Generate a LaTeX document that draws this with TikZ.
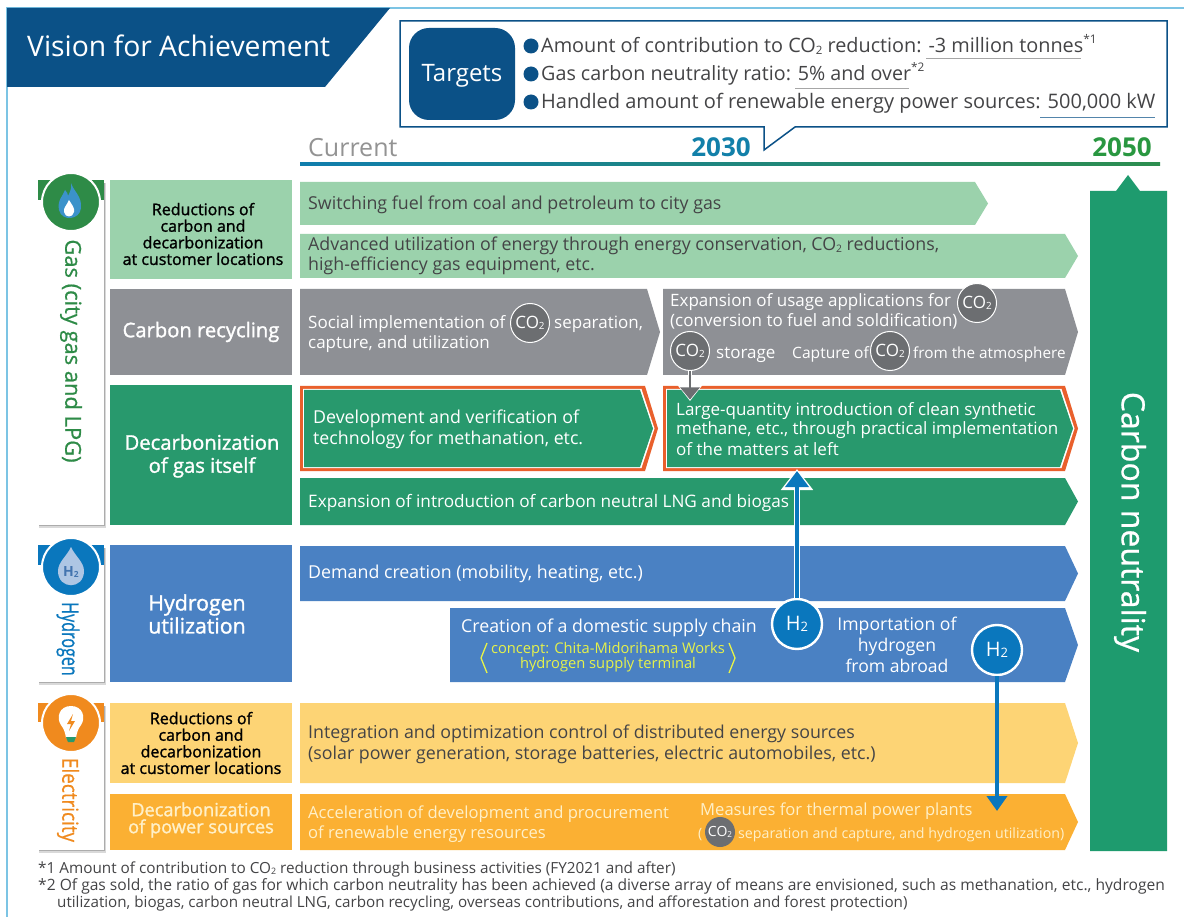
\documentclass[tikz,border=0pt]{standalone}
\usepackage{fontspec}
\setmainfont{Open Sans}
\newfontfamily\semi[FakeBold=1.4]{Open Sans}
\newfontfamily\medi[FakeBold=0.7]{Open Sans}
\usetikzlibrary{arrows.meta,shapes.geometric,calc}
\definecolor{navy}{HTML}{0B5187}
\definecolor{frameblue}{HTML}{7CC4E4}
\definecolor{lgreen}{HTML}{9BD2AC}
\definecolor{gray1}{HTML}{8E9095}
\definecolor{gray2}{HTML}{6C6E71}
\definecolor{dgreen}{HTML}{28996D}
\definecolor{barGreen}{HTML}{1E9B6E}
\definecolor{blue1}{HTML}{4A81C3}
\definecolor{h2blue}{HTML}{0A77BD}
\definecolor{yel}{HTML}{FDD475}
\definecolor{org}{HTML}{FBB033}
\definecolor{redorg}{HTML}{E9602C}
\definecolor{txtg}{HTML}{444446}
\definecolor{sidegreen}{HTML}{2E8B47}
\definecolor{sideorg}{HTML}{F08A1E}
\definecolor{conc}{HTML}{E6F24A}
\definecolor{paleorg}{HTML}{FFF0C8}
\newcommand\fs[2]{\fontsize{#1}{#2}\selectfont}
\newcommand\cotwo{CO\raisebox{-.08em}{\scalebox{.58}{2}}}
\newcommand\supr[1]{\raisebox{.48em}{\scalebox{.6}{#1}}}
\newcommand\chev[7][]{% name,x0,y0,x1,y1,color
  \fill[#7,#1] (#3,#4) -- (#5-13,#4) -- (#5,{(#4+#6)/2}) -- (#5-13,#6) -- (#3,#6) -- cycle;
  \coordinate (#2) at ({(#3+#5)/2},{(#4+#6)/2});}
\newcommand\rbox[6]{\fill[#6] (#2,#3) rectangle (#4,#5); \coordinate (#1) at ({(#2+#4)/2},{(#3+#5)/2});}
\tikzset{
 tx/.style={anchor=base west,inner sep=0pt,font=\fs{17.8}{20}},
 wt/.style={tx,text=white},
 dk/.style={tx,text=txtg},
 lab/.style={anchor=center,inner sep=0pt,align=center},
 co/.style={circle,fill=gray2,draw=white,line width=1pt,minimum size=39pt,inner sep=0pt,text=white,font=\fs{17}{18}},
 hh/.style={circle,fill=h2blue,draw=white,line width=2.4pt,minimum size=50pt,inner sep=0pt,text=white,font=\fs{20}{22}},
}
\begin{document}
\begin{tikzpicture}[x=1pt,y=-1pt]
\useasboundingbox (0,0) rectangle (1184,917);
\fill[white] (0,0) rectangle (1184,917);
% frame
\draw[frameblue,line width=1.6pt] (1184,8) -- (7,8) -- (7,917);
% header
\fill[navy] (7,8) -- (390,8) -- (325,87) -- (7,87) -- cycle;
\node[tx,text=white,font=\fs{28.3}{30}] (title) at (27,57) {Vision for Achievement};
% targets callout
\draw[navy,line width=1.5pt,fill=white] (400,21) -- (1167,21) -- (1167,127) -- (795,127) -- (764,150) -- (764,127) -- (400,127) -- cycle;
\node[fill=navy,rounded corners=20pt,minimum width=106pt,minimum height=92pt,inner sep=0pt] (targets) at (462,74) {};
\node[anchor=center,inner sep=0pt,text=white,font=\fs{24}{26}] (targetst) at (462,76) {Targets};
\foreach \y/\n in {46/a,74/b,102/c}{\node[circle,fill=navy,minimum size=15pt,inner sep=0pt] (bul\n) at (531,\y) {};}
\node[dk,font=\fs{19.85}{24}] (t1) at (541,53) {Amount of contribution to \cotwo\ reduction: -3 million tonnes\supr{*1}};
\node[dk,font=\fs{19.7}{24}] (t2) at (541,81) {Gas carbon neutrality ratio: 5\% and over\supr{*2}};
\node[dk,font=\fs{20}{24}] (t3) at (541,109) {Handled amount of renewable energy power sources: 500,000 kW};
\draw[gray!70,line width=.7pt] (926,58.5) -- (1081,58.5);
\draw[gray!70,line width=.7pt] (795,88) -- (909,88);
\draw[navy!70,line width=.9pt] (1040,117) -- (1155,117);
% timeline
\shade[left color=h2blue!80!dgreen,right color=sidegreen!80!dgreen] (300,162.5) rectangle (1160,166);
\node[tx,text=gray!85,font=\fs{25}{28}] (cur) at (308,157) {Current};
\node[tx,anchor=base,text=h2blue!75!dgreen,font=\bfseries\fs{26}{28}] (y30) at (721,157) {2030};
\node[tx,anchor=base,text=sidegreen!90!green,font=\bfseries\fs{26}{28}] (y50) at (1122,157) {2050};
% carbon neutrality bar
\fill[barGreen] (1090,191) -- (1116,191) -- (1128,175) -- (1140,191) -- (1167,191) -- (1167,851) -- (1090,851) -- cycle;
\node[rotate=-90,anchor=center,inner sep=0pt,text=white,font=\medi\fs{32}{34}] (cn) at (1130,522) {Carbon neutrality};
% side cards
\foreach \a/\b in {180/525,545/682,703/850}{
  \fill[gray!30] (39,\a+3) rectangle (105.5,\b+2.5);
  \fill[gray!65] (39,\a+3) rectangle (104.5,\b+1.3);
  \fill[white] (37.5,\a) rectangle (103.5,\b);}
\fill[sidegreen] (37.5,180) rectangle (103.5,200);
\fill[h2blue] (37.5,545) rectangle (103.5,565);
\fill[sideorg] (37.5,703) rectangle (103.5,722);
% gas icon
\node[circle,fill=sidegreen,draw=white,line width=2pt,minimum size=58pt,inner sep=0pt] (gasic) at (71,202) {};
\fill[h2blue!80!white] (71,183) .. controls (74,192) and (82,196) .. (81,208) .. controls (80,220) and (62,222) .. (59,210) .. controls (57,200) and (63,196) .. (65,190) .. controls (67,192) and (68,194) .. (68,196) .. controls (70,192) and (72,188) .. (71,183) -- cycle;
\fill[white] (69,200) .. controls (72,205) and (75,208) .. (74,212) .. controls (73,218) and (65,218) .. (64,212) .. controls (63,208) and (67,205) .. (69,200) -- cycle;
% hydrogen icon
\node[circle,fill=h2blue,draw=white,line width=2pt,minimum size=58pt,inner sep=0pt] (h2ic) at (71,567) {};
\fill[blue1!45!white] (71,547) .. controls (75,556) and (84,562) .. (84,571) .. controls (84,590) and (58,590) .. (58,571) .. controls (58,562) and (67,556) .. (71,547) -- cycle;
\node[anchor=center,inner sep=0pt,text=blue1!90!black,font=\bfseries\fs{14}{15}] (h2ict) at (71,572) {H\raisebox{-.08em}{\scalebox{.6}{2}}};
% electricity icon
\node[circle,fill=sideorg,draw=white,line width=2pt,minimum size=58pt,inner sep=0pt] (elic) at (71,723) {};
\fill[white] (71,706) .. controls (83,706) and (86,718) .. (81,725) .. controls (78,729) and (77,732) .. (76,738) -- (66,738) .. controls (65,732) and (64,729) .. (61,725) .. controls (56,718) and (59,706) .. (71,706) -- cycle;
\fill[dgreen] (66,737) -- (76,737) -- (74,742) -- (68,742) -- cycle;
\fill[sideorg] (73,714) -- (67,724) -- (71,724) -- (69,731) -- (75,721) -- (71,721) -- cycle;
% side titles
\node[rotate=-90,anchor=center,inner sep=0pt,text=sidegreen,font=\medi\fs{21.9}{24}] (sgas) at (71,351) {Gas (city gas and LPG)};
\node[rotate=-90,anchor=center,inner sep=0pt,text=h2blue,font=\medi\fs{23}{24}] (sh2) at (68,639) {\scalebox{.7}[1]{Hydrogen}};
\node[rotate=-90,anchor=center,inner sep=0pt,text=sideorg,font=\medi\fs{22}{24}] (sel) at (68,800) {\scalebox{.86}[1]{Electricity}};
% left labels
\rbox{l1}{110}{180}{291.5}{279}{lgreen}
\rbox{l2}{110}{289}{291.5}{375}{gray1}
\rbox{l3}{110}{385}{291.5}{525}{dgreen}
\rbox{l4}{110}{545}{291.5}{682}{blue1}
\rbox{l5}{110}{703}{291.5}{783}{yel}
\rbox{l6}{110}{794}{291.5}{850}{org}
\node[lab,text=black,font=\semi\fs{16}{16.6}] (l1t) at (203,234) {Reductions of\\carbon and\\decarbonization\\at customer locations};
\node[lab,text=white,font=\semi\fs{20.2}{22}] (l2t) at (201,332) {Carbon recycling};
\node[lab,text=white,font=\semi\fs{20.2}{23}] (l3t) at (202,456) {Decarbonization\\of gas itself};
\node[lab,text=white,font=\semi\fs{21.3}{23}] (l4t) at (197,614) {Hydrogen\\utilization};
\node[lab,text=black,font=\semi\fs{16}{16.6}] (l5t) at (201,743) {Reductions of\\carbon and\\decarbonization\\at customer locations};
\node[lab,text=paleorg,font=\semi\fs{18.2}{17}] (l6t) at (201,820) {Decarbonization\\of power sources};
% chevrons
\chev{c1}{300}{182}{988}{225}{lgreen}
\chev{c2}{300}{234}{1078}{278}{lgreen}
\chev{c3}{300}{289}{660}{375}{gray1}
\chev{c4}{663}{289}{1078}{375}{gray1}
\chev{c5}{300}{386}{658}{471}{redorg}
\chev{c5w}{303}{389}{654.5}{468}{white}
\chev{c5g}{304}{390}{653}{467}{dgreen}
\chev{c6}{663}{386}{1078}{471}{redorg}
\chev{c6w}{666}{389}{1074.5}{468}{white}
\chev{c6g}{667}{390}{1073}{467}{dgreen}
\chev{c7}{300}{478}{1078}{525}{dgreen}
\chev{c8}{300}{546}{1078}{601}{blue1}
\chev{c9}{450}{608}{1078}{682}{blue1}
\chev{c10}{300}{703}{1078}{783}{yel}
\chev{c11}{300}{794}{1078}{850}{org}
% chevron texts
\node[dk] (a1) at (308,210) {Switching fuel from coal and petroleum to city gas};
\node[dk] (a2) at (308,251) {Advanced utilization of energy through energy conservation, \cotwo\ reductions,};
\node[dk] (a3) at (308,271) {high-efficiency gas equipment, etc.};
\node[wt,font=\fs{17}{20}] (b1) at (308,329) {Social implementation of};
\node[wt,font=\fs{17}{20}] (b2) at (554,329) {separation,};
\node[wt,font=\fs{17}{20}] (b3) at (308,349) {capture, and utilization};
\node[wt,font=\fs{17}{20}] (b4) at (670,307) {Expansion of usage applications for};
\node[wt,font=\fs{17}{20}] (b5) at (670,327) {(conversion to fuel and soldification)};
\node[wt,font=\fs{17}{20}] (b6) at (716,359) {storage};
\node[wt,font=\fs{15.6}{20}] (b7) at (792,359) {Capture of};
\node[wt,font=\fs{15.3}{20}] (b8) at (913,359) {from the atmosphere};
\node[wt] (d1) at (313,424) {Development and verification of};
\node[wt] (d2) at (313,444) {technology for methanation, etc.};
\node[wt,font=\fs{17}{20}] (d3) at (676,415) {Large-quantity introduction of clean synthetic};
\node[wt,font=\fs{17}{20}] (d4) at (676,435) {methane, etc., through practical implementation};
\node[wt,font=\fs{17}{20}] (d5) at (676,455) {of the matters at left};
\node[wt,font=\fs{17.2}{20}] (e1) at (308,507) {Expansion of introduction of carbon neutral LNG and biogas};
\node[wt] (f1) at (308,578) {Demand creation (mobility, heating, etc.)};
\node[wt] (g1) at (461,632) {Creation of a domestic supply chain};
\node[lab,text=conc,font=\fs{14.7}{15}] (g2) at (608,657) {concept: Chita-Midorihama Works\\hydrogen supply terminal};
\draw[conc,line width=1.3pt] (487,643) -- (481,658) -- (487,673);
\draw[conc,line width=1.3pt] (729,643) -- (735,658) -- (729,673);
\node[lab,text=white,font=\fs{17.6}{21}] (g3) at (897,645) {Importation of\\hydrogen\\from abroad};
\node[dk] (i1) at (308,738) {Integration and optimization control of distributed energy sources};
\node[dk] (i2) at (308,759) {(solar power generation, storage batteries, electric automobiles, etc.)};
\node[tx,text=paleorg,font=\fs{16.6}{20}] (j1) at (308,818) {Acceleration of development and procurement};
\node[tx,text=paleorg,font=\fs{16.6}{20}] (j2) at (308,838) {of renewable energy resources};
\node[tx,text=paleorg,font=\fs{16.6}{20}] (j3) at (700,815) {Measures for thermal power plants};
\node[tx,text=paleorg,font=\fs{14.2}{16}] (j4) at (698,838) {(};
\node[tx,text=paleorg,font=\fs{14.2}{16}] (j5) at (738,838) {separation and capture, and hydrogen utilization)};
% CO2 circles
\node[co] (co1) at (530,323) {\cotwo};
\node[co] (co2) at (977,303) {\cotwo};
\node[co] (co3) at (690,351) {\cotwo};
\node[co] (co4) at (890,351) {\cotwo};
\node[circle,fill=gray2,minimum size=30pt,inner sep=0pt,text=white,font=\fs{14}{15}] (co5) at (720,832) {\cotwo};
% arrows
\coordinate (co3tip) at (690,401);
\draw[white,line width=4pt,-{Triangle[width=24pt,length=16pt]}] (co3.south) -- (co3tip);
\draw[gray2,line width=2.5pt,-{Triangle[width=19pt,length=12pt]}] (co3.south) -- ($(co3tip)+(0,-1.5)$);
\coordinate (h1tip) at (797,469);
\coordinate (h2tip) at (997,811);
\node[hh] (h1) at (797,624) {H\raisebox{-.08em}{\scalebox{.65}{2}}};
\node[hh] (h2) at (997,650) {H\raisebox{-.08em}{\scalebox{.65}{2}}};
\draw[white,line width=6.5pt,-{Triangle[width=31pt,length=21pt]}] (h1.north) -- (h1tip);
\draw[h2blue,line width=4.5pt,-{Triangle[width=23pt,length=16pt]}] (h1.north) -- ($(h1tip)+(0,2)$);
\draw[h2blue,line width=4.5pt,-{Triangle[width=20pt,length=15pt]}] (h2.south) -- (h2tip);
% footnotes
\node[dk,font=\fs{15.3}{16}] (fn1) at (38,873) {*1 Amount of contribution to \cotwo\ reduction through business activities (FY2021 and after)};
\node[dk,font=\fs{15.6}{16}] (fn2) at (38,890) {*2 Of gas sold, the ratio of gas for which carbon neutrality has been achieved (a diverse array of means are envisioned, such as methanation, etc., hydrogen};
\node[dk,font=\fs{15.2}{16}] (fn3) at (57,907) {utilization, biogas, carbon neutral LNG, carbon recycling, overseas contributions, and afforestation and forest protection)};
\end{tikzpicture}
\end{document}
